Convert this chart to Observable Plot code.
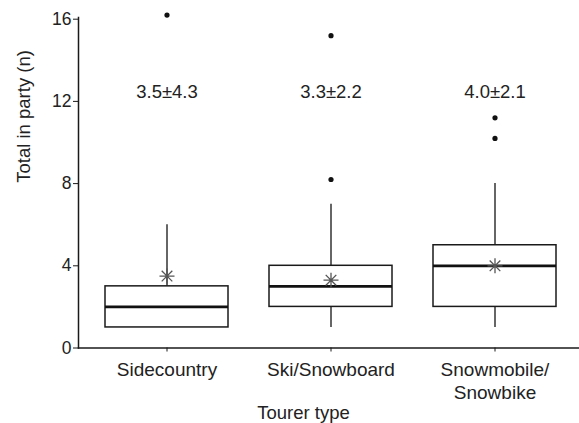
<!DOCTYPE html>
<html>
<head>
<meta charset="utf-8">
<script src="https://cdn.jsdelivr.net/npm/d3@7"></script>
<script src="https://cdn.jsdelivr.net/npm/@observablehq/plot@0.6"></script>
<style>
  html, body { margin: 0; padding: 0; background: #fff; }
</style>
</head>
<body>
<div id="chart"></div>
<script>
// ---- data ----
const categories = ["Sidecountry", "Ski/Snowboard", "Snowmobile/\nSnowbike"];
const q1 = [1, 2, 2];
const medians = [2, 3, 4];
const q3 = [3, 4, 5];
const whiskerLow = [1, 1, 1];
const whiskerHigh = [6, 7, 8];
const means = [3.5, 3.3, 4.0];
const statLabels = ["3.5±4.3", "3.3±2.2", "4.0±2.1"];
const outlierCategoryIndex = [0, 1, 1, 2, 2];
const outlierValues = [16.2, 15.2, 8.2, 11.2, 10.2];
const yTicks = [0, 4, 8, 12, 16];
const yTitle = "Total in party (n)";
const xTitle = "Tourer type";

// ---- tables built from the arrays ----
const rows = categories.map((c, i) => ({
  category: c, q1: q1[i], median: medians[i], q3: q3[i],
  low: whiskerLow[i], high: whiskerHigh[i], mean: means[i], stat: statLabels[i]
}));
const outliers = outlierValues.map((v, i) => ({ category: categories[outlierCategoryIndex[i]], value: v }));

// 8-armed asterisk (like R pch = 8)
const asterisk = {
  draw(context, size) {
    const r = Math.sqrt(size / Math.PI);
    const d = r * Math.SQRT1_2;
    context.moveTo(-r, 0); context.lineTo(r, 0);
    context.moveTo(0, -r); context.lineTo(0, r);
    context.moveTo(-d, -d); context.lineTo(d, d);
    context.moveTo(-d, d); context.lineTo(d, -d);
  }
};

const ink = "#1a1a1a";
const font = "'Liberation Sans', Arial, Helvetica, sans-serif";

const chart = Plot.plot({
  width: 579,
  height: 423,
  marginLeft: 78,
  marginRight: 0,
  marginTop: 17,
  marginBottom: 75.5,
  style: { fontFamily: font, color: "#222", background: "#fff" },
  x: { type: "band", domain: categories, range: [83, 577.5], paddingInner: 0.25, paddingOuter: 0.125 },
  y: { domain: [0, 16], range: [347.5, 18.7] },
  marks: [
    Plot.frame({ anchor: "left", stroke: ink, strokeWidth: 1.5 }),
    Plot.frame({ anchor: "bottom", stroke: ink, strokeWidth: 1.5 }),
    Plot.axisY({ ticks: yTicks, tickSize: 5, tickPadding: 2, fontSize: 17.5, label: null, stroke: ink }),
    Plot.axisX({ tickSize: 4, tickPadding: 8, fontSize: 19, lineHeight: 1.2, label: null, stroke: ink }),
    // whiskers
    Plot.ruleX(rows, { x: "category", y1: "q3", y2: "high", stroke: "#333", strokeWidth: 1.5 }),
    Plot.ruleX(rows, { x: "category", y1: "low", y2: "q1", stroke: "#333", strokeWidth: 1.5 }),
    // boxes
    Plot.barY(rows, { x: "category", y1: "q1", y2: "q3", fill: "white", stroke: ink, strokeWidth: 1.5 }),
    // medians
    Plot.tickY(rows, { x: "category", y: "median", stroke: "#111", strokeWidth: 2.8 }),
    // means
    Plot.dot(rows, { x: "category", y: "mean", symbol: asterisk, r: 7.5, fill: "none", stroke: "#555", strokeWidth: 1.3 }),
    // outliers
    Plot.dot(outliers, { x: "category", y: "value", r: 2.6, fill: "#111", stroke: "none" }),
    // mean ± sd labels
    Plot.text(rows, { x: "category", text: "stat", frameAnchor: "top", lineAnchor: "middle", dy: 75, fontSize: 18.5, fill: "#222" }),
    // axis titles
    Plot.text([yTitle], { frameAnchor: "left", lineAnchor: "middle", dx: -54, rotate: -90, fontSize: 18.5, fill: "#222" }),
    Plot.text([xTitle], { frameAnchor: "bottom", lineAnchor: "middle", dx: -25.5, dy: 65, fontSize: 18.5, fill: "#222" })
  ]
});
document.getElementById("chart").appendChild(chart);
</script>
</body>
</html>
